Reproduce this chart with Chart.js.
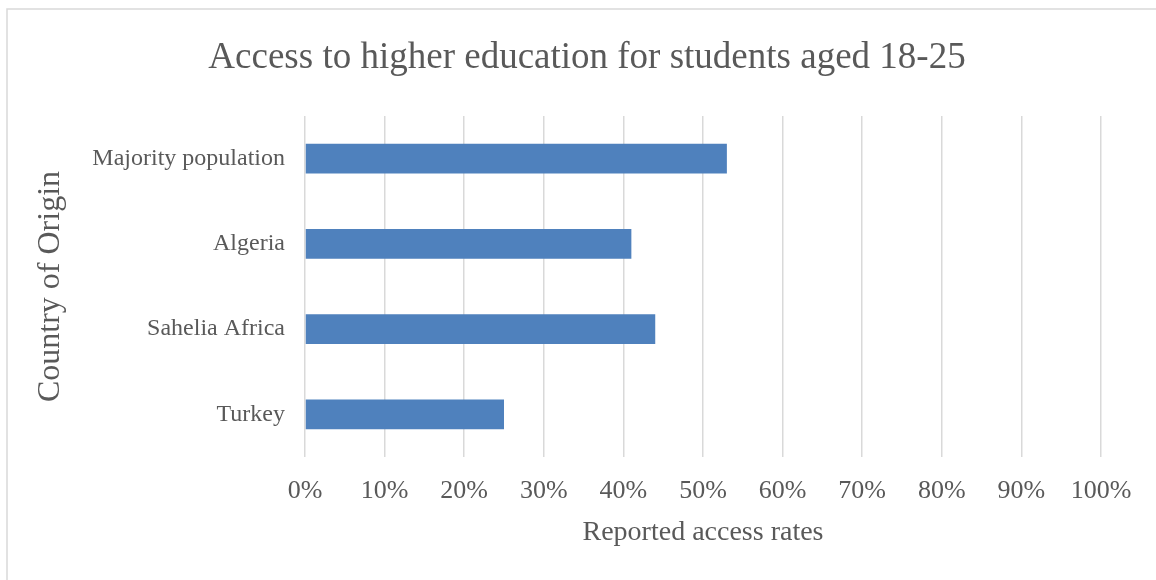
<!DOCTYPE html>
<html>
<head>
<meta charset="utf-8">
<title>Access to higher education</title>
<script src="https://cdn.jsdelivr.net/npm/chart.js@4.4.1/dist/chart.umd.min.js"></script>
<style>
  html, body { margin: 0; padding: 0; background: #fff; overflow: hidden; }
  #wrap { width: 1156px; height: 580px; }
</style>
</head>
<body>
<div id="wrap"><canvas id="chart" width="1156" height="580"></canvas></div>
<script>
// values are percentages
const categories = ['Majority population', 'Algeria', 'Sahelia Africa', 'Turkey'];
const accessRates = [53, 41, 44, 25];
const rateTicks = [0, 10, 20, 30, 40, 50, 60, 70, 80, 90, 100];

const titleText = 'Access to higher education for students aged 18-25';
const textColor = '#595959';
const gridColor = '#d9d9d9';
const serif = "'Liberation Serif', 'Times New Roman', serif";

// outer frame + centred title, drawn straight onto the canvas
const frame = {
  id: 'frame',
  beforeDraw(chart) {
    const ctx = chart.ctx;
    ctx.save();
    ctx.strokeStyle = gridColor;
    ctx.lineWidth = 1.5;
    ctx.strokeRect(7, 9, 1160, 590);
    ctx.restore();
  },
  afterDraw(chart) {
    const ctx = chart.ctx;
    ctx.save();
    ctx.fillStyle = textColor;
    ctx.font = '37px ' + serif;
    ctx.textAlign = 'center';
    ctx.textBaseline = 'middle';
    ctx.fillText(titleText, (7 + 1167) / 2, 58);
    ctx.restore();
  }
};

new Chart(document.getElementById('chart'), {
  type: 'bar',
  data: {
    labels: categories,
    datasets: [{
      label: 'Reported access rates',
      data: accessRates,
      backgroundColor: '#4f81bd',
      borderWidth: 0,
      barPercentage: 0.35,
      categoryPercentage: 1
    }]
  },
  options: {
    indexAxis: 'y',
    responsive: false,
    animation: false,
    layout: { padding: { top: 116, right: 55, left: 0, bottom: 0 } },
    plugins: {
      legend: { display: false },
      tooltip: { enabled: false },
      title: { display: false }
    },
    scales: {
      x: {
        min: 0,
        max: 100,
        afterBuildTicks: (axis) => { axis.ticks = rateTicks.map(v => ({ value: v })); },
        afterFit: (axis) => { axis.height = 123; },
        grid: { color: gridColor, lineWidth: 1.5, drawTicks: false },
        border: { display: false },
        ticks: {
          color: textColor,
          font: { family: serif, size: 26 },
          padding: 19,
          maxRotation: 0,
          callback: (v) => v + '%'
        },
        title: {
          display: true,
          text: 'Reported access rates',
          color: textColor,
          font: { family: serif, size: 28 },
          padding: { top: 0, bottom: 31 }
        }
      },
      y: {
        afterFit: (axis) => { axis.width = 305; },
        grid: { display: false, drawTicks: false },
        border: { display: false },
        ticks: {
          color: textColor,
          font: { family: serif, size: 24 },
          padding: 20
        },
        title: {
          display: true,
          text: 'Country of Origin',
          color: textColor,
          font: { family: serif, size: 32 },
          padding: { top: 31, bottom: 0 }
        }
      }
    }
  },
  plugins: [frame]
});
</script>
</body>
</html>
